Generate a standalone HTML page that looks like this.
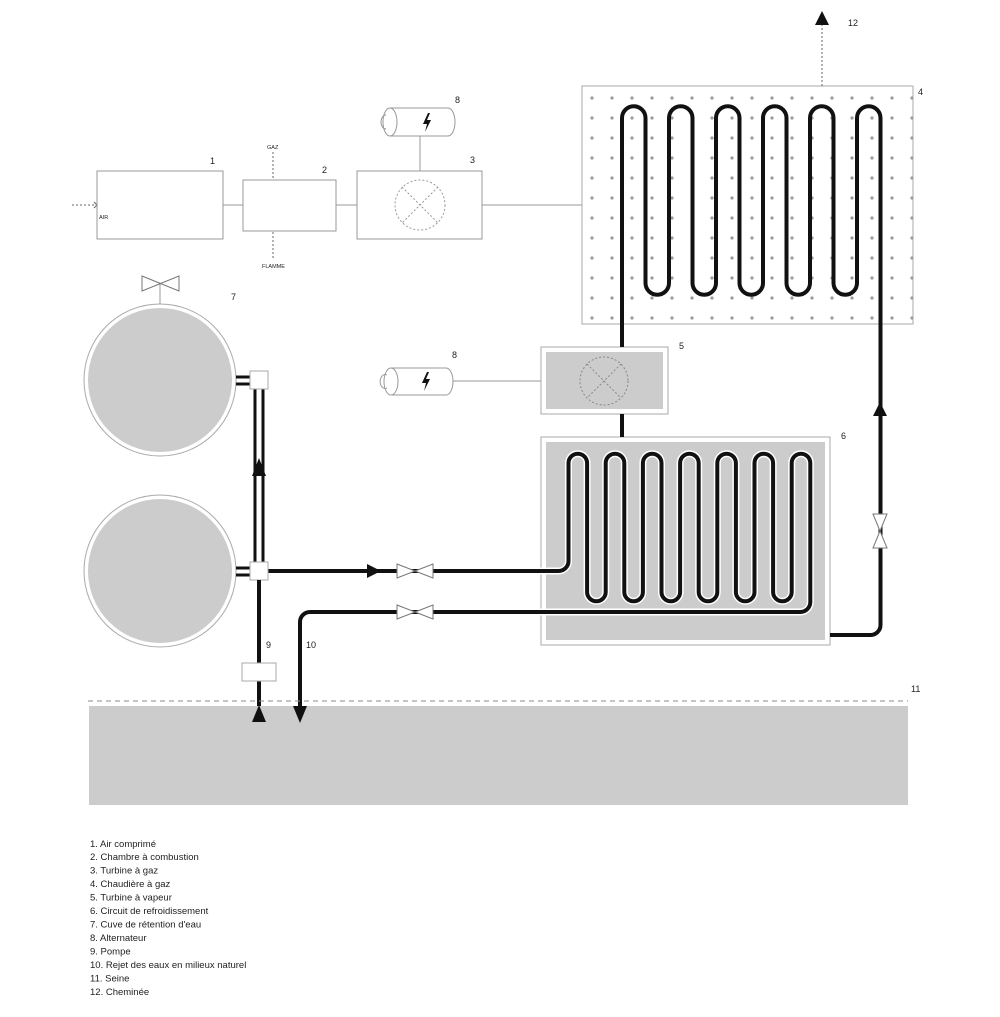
<!DOCTYPE html>
<html><head><meta charset="utf-8"><style>
html,body{margin:0;padding:0;background:#fff;}
svg{display:block;}
text{font-family:"Liberation Sans",sans-serif;fill:#222;}
.leg{font-size:9.5px;fill:#333;}
</style></head><body>
<svg width="1000" height="1017" viewBox="0 0 1000 1017" xmlns="http://www.w3.org/2000/svg">
<defs>
<pattern id="dots" x="582" y="86" width="20" height="20" patternUnits="userSpaceOnUse">
<circle cx="10" cy="12" r="1.6" fill="#9a9a9a"/>
</pattern>
</defs>

<line x1="72" y1="205" x2="96" y2="205" stroke="#666" stroke-width="1" stroke-dasharray="2,2"/>
<path d="M94,202 L97,205 L94,208" fill="none" stroke="#666" stroke-width="1"/>
<rect x="97" y="171" width="126" height="68" fill="#fff" stroke="#999" stroke-width="1"/>
<text x="99" y="219" font-size="5.5">AIR</text>
<line x1="223" y1="205" x2="243" y2="205" stroke="#999"/>
<rect x="243" y="180" width="93" height="51" fill="#fff" stroke="#999" stroke-width="1"/>
<line x1="336" y1="205" x2="357" y2="205" stroke="#999"/>
<rect x="357" y="171" width="125" height="68" fill="#fff" stroke="#999" stroke-width="1"/>
<circle cx="420" cy="205" r="25" fill="none" stroke="#999" stroke-dasharray="2,2"/>
<line x1="402" y1="187" x2="438" y2="223" stroke="#999" stroke-dasharray="2,2"/>
<line x1="438" y1="187" x2="402" y2="223" stroke="#999" stroke-dasharray="2,2"/>
<line x1="482" y1="205" x2="582" y2="205" stroke="#999"/>
<line x1="273" y1="152" x2="273" y2="179" stroke="#666" stroke-dasharray="2,2"/>
<line x1="273" y1="232" x2="273" y2="258" stroke="#666" stroke-dasharray="2,2"/>
<text x="267" y="149" font-size="5.5">GAZ</text>
<text x="262" y="268" font-size="5.5">FLAMME</text>
<text x="210" y="164" font-size="9">1</text>
<text x="322" y="173" font-size="9">2</text>
<text x="470" y="163" font-size="9">3</text>

<line x1="420" y1="136" x2="420" y2="171" stroke="#999"/>
<path d="M390,108 H448 A7,14 0 0 1 448,136 H390" fill="#fff" stroke="#999"/>
<ellipse cx="390" cy="122" rx="7" ry="14" fill="#fff" stroke="#999"/>
<path d="M386,115 A5,7 0 1 0 386,129" fill="none" stroke="#999"/>
<path d="M428,113 L423,124 L427,124 L425,132 L431,120 L427,120 L430,113 Z" fill="#111"/>
<text x="455" y="103" font-size="9">8</text>

<rect x="582" y="86" width="331" height="238" fill="#fff" stroke="#aaa"/>
<rect x="582" y="86" width="331" height="238" fill="url(#dots)"/>
<text x="918" y="95" font-size="9">4</text>
<line x1="822" y1="86" x2="822" y2="25" stroke="#666" stroke-dasharray="2,2"/>
<path d="M822,11 L815,25 L829,25 Z" fill="#111"/>
<text x="848" y="26" font-size="9">12</text>

<rect x="541" y="347" width="127" height="67" fill="#fff" stroke="#aaa"/>
<rect x="546" y="352" width="117" height="57" fill="#ccc"/>
<circle cx="604" cy="381" r="24" fill="none" stroke="#888" stroke-dasharray="2,2"/>
<line x1="587" y1="364" x2="621" y2="398" stroke="#888" stroke-dasharray="2,2"/>
<line x1="621" y1="364" x2="587" y2="398" stroke="#888" stroke-dasharray="2,2"/>
<text x="679" y="349" font-size="9">5</text>

<line x1="452" y1="381" x2="541" y2="381" stroke="#999"/>
<path d="M391,368 H446 A7,13.5 0 0 1 446,395 H391" fill="#fff" stroke="#999"/>
<ellipse cx="391" cy="381.5" rx="7" ry="13.5" fill="#fff" stroke="#999"/>
<path d="M387,375 A5,7 0 1 0 387,388" fill="none" stroke="#999"/>
<path d="M427,372 L422,383 L426,383 L424,391 L430,379 L426,379 L429,372 Z" fill="#111"/>
<text x="452" y="358" font-size="9">8</text>

<rect x="541" y="437" width="289" height="208" fill="#fff" stroke="#aaa"/>
<rect x="546" y="442" width="279" height="198" fill="#ccc"/>
<text x="841" y="439" font-size="9">6</text>

<line x1="622" y1="324" x2="622" y2="347" stroke="#111" stroke-width="4"/>
<line x1="622" y1="414" x2="622" y2="437" stroke="#111" stroke-width="4"/>

<g fill="none" stroke-linejoin="round">
<path d="M622,324 V118 A11.75,11.75 0 0 1 645.5,118 V283 A11.75,11.75 0 0 0 669,283 V118 A11.75,11.75 0 0 1 692.5,118 V283 A11.75,11.75 0 0 0 716,283 V118 A11.75,11.75 0 0 1 739.5,118 V283 A11.75,11.75 0 0 0 763,283 V118 A11.75,11.75 0 0 1 786.5,118 V283 A11.75,11.75 0 0 0 810,283 V118 A11.75,11.75 0 0 1 833.5,118 V283 A11.75,11.75 0 0 0 857,283 V118 A11.75,11.75 0 0 1 880.5,118 V625 A10,10 0 0 1 870.5,635 H830" stroke="#111" stroke-width="4"/>

<path d="M268,571 H558.5 A10,10 0 0 0 568.5,561 V463 A9.3,9.3 0 0 1 587.1,463 V592 A9.3,9.3 0 0 0 605.7,592 V463 A9.3,9.3 0 0 1 624.3,463 V592 A9.3,9.3 0 0 0 642.9,592 V463 A9.3,9.3 0 0 1 661.5,463 V592 A9.3,9.3 0 0 0 680.1,592 V463 A9.3,9.3 0 0 1 698.7,463 V592 A9.3,9.3 0 0 0 717.3,592 V463 A9.3,9.3 0 0 1 735.9,463 V592 A9.3,9.3 0 0 0 754.5,592 V463 A9.3,9.3 0 0 1 773.1,463 V592 A9.3,9.3 0 0 0 791.7,592 V463 A9.3,9.3 0 0 1 810.3,463 V602 A10,10 0 0 1 800.3,612 H310 A10,10 0 0 0 300,622 V706" stroke="#fff" stroke-width="7"/>
<path d="M268,571 H558.5 A10,10 0 0 0 568.5,561 V463 A9.3,9.3 0 0 1 587.1,463 V592 A9.3,9.3 0 0 0 605.7,592 V463 A9.3,9.3 0 0 1 624.3,463 V592 A9.3,9.3 0 0 0 642.9,592 V463 A9.3,9.3 0 0 1 661.5,463 V592 A9.3,9.3 0 0 0 680.1,592 V463 A9.3,9.3 0 0 1 698.7,463 V592 A9.3,9.3 0 0 0 717.3,592 V463 A9.3,9.3 0 0 1 735.9,463 V592 A9.3,9.3 0 0 0 754.5,592 V463 A9.3,9.3 0 0 1 773.1,463 V592 A9.3,9.3 0 0 0 791.7,592 V463 A9.3,9.3 0 0 1 810.3,463 V602 A10,10 0 0 1 800.3,612 H310 A10,10 0 0 0 300,622 V706" stroke="#111" stroke-width="4"/>
</g>

<path d="M397,564 L433,578 L433,564 L397,578 Z" fill="#fff" stroke="#777"/>
<path d="M397,605 L433,619 L433,605 L397,619 Z" fill="#fff" stroke="#777"/>
<path d="M381,571 L367,564 L367,578 Z" fill="#111"/>
<path d="M873,514 L887,548 L873,548 L887,514 Z" fill="#fff" stroke="#777"/>
<path d="M880,402 L873,416 L887,416 Z" fill="#111"/>

<circle cx="160" cy="380" r="76" fill="#fff" stroke="#aaa"/>
<circle cx="160" cy="380" r="72" fill="#ccc"/>
<circle cx="160" cy="571" r="76" fill="#fff" stroke="#aaa"/>
<circle cx="160" cy="571" r="72" fill="#ccc"/>
<line x1="160" y1="283" x2="160" y2="304" stroke="#999"/>
<path d="M142,276 L179,291 L179,276 L142,291 Z" fill="#fff" stroke="#777"/>
<text x="231" y="300" font-size="9">7</text>

<g stroke="#111" stroke-width="3">
<line x1="236" y1="377" x2="251" y2="377"/><line x1="236" y1="384" x2="251" y2="384"/>
<line x1="236" y1="568" x2="251" y2="568"/><line x1="236" y1="575" x2="251" y2="575"/>
<line x1="255" y1="389" x2="255" y2="562"/><line x1="263" y1="389" x2="263" y2="562"/>
</g>
<path d="M259,458 L252,476 L266,476 Z" fill="#111"/>
<rect x="250" y="371" width="18" height="18" fill="#fff" stroke="#aaa"/>
<rect x="250" y="562" width="18" height="18" fill="#fff" stroke="#aaa"/>
<line x1="259" y1="580" x2="259" y2="706" stroke="#111" stroke-width="4"/>
<rect x="242" y="663" width="34" height="18" fill="#fff" stroke="#aaa"/>
<text x="266" y="648" font-size="9">9</text>
<text x="306" y="648" font-size="9">10</text>

<line x1="88" y1="701" x2="908" y2="701" stroke="#888" stroke-dasharray="5,4"/>
<rect x="89" y="706" width="819" height="99" fill="#ccc"/>
<path d="M259,705 L252,722 L266,722 Z" fill="#111"/>
<path d="M300,723 L293,706 L307,706 Z" fill="#111"/>
<text x="911" y="692" font-size="9">11</text>

<g class="leg">
<text x="90" y="847">1. Air comprimé</text>
<text x="90" y="860">2. Chambre à combustion</text>
<text x="90" y="873.5">3. Turbine à gaz</text>
<text x="90" y="887">4. Chaudière à gaz</text>
<text x="90" y="900.5">5. Turbine à vapeur</text>
<text x="90" y="914">6. Circuit de refroidissement</text>
<text x="90" y="927.5">7. Cuve de rétention d'eau</text>
<text x="90" y="941">8. Alternateur</text>
<text x="90" y="954.5">9. Pompe</text>
<text x="90" y="968">10. Rejet des eaux en milieux naturel</text>
<text x="90" y="981.5">11. Seine</text>
<text x="90" y="995">12. Cheminée</text>
</g>
</svg>
</body></html>
